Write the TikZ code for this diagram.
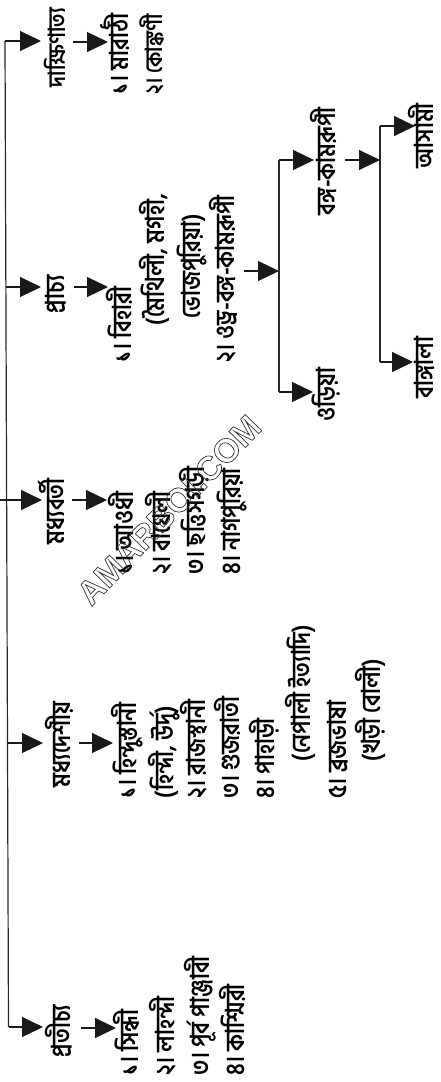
\documentclass[tikz,border=0pt]{standalone}
\usepackage{fontspec}
\usetikzlibrary{arrows.meta}
\newfontfamily\bnfont[Script=Bengali,FakeStretch=0.85]{Hind Siliguri}
\newfontfamily\wmfont{Liberation Sans}
\tikzset{
  x=1pt,y=-1pt,
  lab/.style={rotate=90,anchor=west,inner xsep=0pt,inner ysep=0pt,outer sep=0pt,text height=15pt,text depth=5pt,font=\bnfont\bfseries\fontsize{26}{30}\selectfont,text=black},
  labsm/.style={lab,font=\bnfont\bfseries\fontsize{23.5}{28}\selectfont},
  arr/.style={line width=1.1pt,draw=black!90,-{Triangle[length=21pt,width=20pt,fill=black!90]}},
  trunk/.style={line width=1.2pt,draw=black!85},
}
\begin{document}
\begin{tikzpicture}
\useasboundingbox (0,0) rectangle (441,1082);
% top level
\node[labsm] (dak) at (60,87) {দাক্ষিণাত্য};
\node[lab] (pra) at (59,313) {প্রাচ্য};
\node[lab] (mad) at (59,544) {মধ্যবর্তী};
\node[lab] (mds) at (65,787) {মধ্যদেশীয়};
\node[lab] (pro) at (65,1057) {প্রতীচ্য};
% lists
\node[lab] (d1) at (123,94) {১। মারাঠী};
\node[labsm] (d2) at (157,94) {২। কোঙ্কণী};
\node[lab] (p1) at (126,362) {১। বিহারী};
\node[lab] (p1a) at (159,325) {(মৈথিলী, মগহী,};
\node[lab] (p1b) at (195,318) {ভোজপুরিয়া)};
\node[lab] (p2) at (229,362) {২। ওড্র-বঙ্গ-কামরূপী};
\node[lab] (m1) at (128,574) {১। আওধী};
\node[lab] (m2) at (165,574) {২। বাঘেলী};
\node[lab] (m3) at (199,574) {৩। ছত্তিসগড়ী};
\node[lab] (m4) at (235,574) {৪। নাগপুরিয়া};
\node[lab] (c1) at (131,798) {১। হিন্দুস্তানী};
\node[lab] (c1a) at (168,798) {(হিন্দী, উর্দু)};
\node[lab] (c2) at (200,798) {২। রাজস্থানী};
\node[lab] (c3) at (234,798) {৩। গুজরাতী};
\node[lab] (c4) at (269,798) {৪। পাহাড়ী};
\node[lab] (c4a) at (305,761) {(নেপালী ইত্যাদি)};
\node[lab] (c5) at (341,798) {৫। ব্রজভাষা};
\node[lab] (c5a) at (375,761) {(খড়ী বোলী)};
\node[lab] (w1) at (133,1075) {১। সিন্ধী};
\node[lab] (w2) at (169,1075) {২। লাহন্দী};
\node[lab] (w3) at (204,1075) {৩। পূর্ব পাঞ্জাবী};
\node[lab] (w4) at (239,1075) {৪। কাশ্মিরী};
\node[lab] (odi) at (330,421) {ওড়িয়া};
\node[lab] (bak) at (330,215) {বঙ্গ-কামরূপী};
\node[lab] (asa) at (428,168) {আসামী};
\node[lab] (ban) at (428,398) {বাঙ্গালা};
% trunk
\coordinate (stub) at (0,500);
\coordinate (t1) at (5,41);
\coordinate (t2) at (5.5,287);
\coordinate (t3) at (6,500);
\coordinate (t4) at (7,743);
\coordinate (t5) at (8.5,1027);
\draw[trunk] (t1) -- (t5);
\draw[trunk] (stub) -- (t3);
\draw[arr,shorten >=9pt] (t1) -- (t1 -| dak.north);
\draw[arr,shorten >=8pt] (t2) -- (t2 -| pra.north);
\draw[arr,shorten >=7pt] (t3) -- (t3 -| mad.north);
\draw[arr,shorten >=12pt] (t4) -- (t4 -| mds.north);
\draw[arr,shorten >=12pt] (t5) -- (t5 -| pro.north);
% second arrows
\coordinate (a1) at (73,42);
\coordinate (a2) at (74,287);
\coordinate (a3) at (72,500);
\coordinate (a4) at (79,743);
\coordinate (a5) at (81,1028);
\draw[arr,shorten >=5pt] (a1) -- (a1 -| d1.north);
\draw[arr,shorten >=8pt] (a2) -- (a2 -| p1.north);
\draw[arr,shorten >=11pt] (a3) -- (a3 -| m1.north);
\draw[arr,shorten >=8pt] (a4) -- (a4 -| c1.north);
\draw[arr,shorten >=7pt] (a5) -- (a5 -| w1.north);
% brackets
\coordinate (b0) at (244,271);
\coordinate (b1) at (279,271);
\coordinate (b1t) at (279,160);
\coordinate (b1b) at (279,392);
\draw[trunk] (b1t) -- (b1b);
\draw[arr] (b0) -- (b1);
\draw[arr,shorten >=6pt] (b1t) -- (b1t -| bak.north);
\draw[arr,shorten >=7pt] (b1b) -- (b1b -| odi.north);
\coordinate (e0) at (345,160);
\coordinate (e1) at (380,160);
\coordinate (e1t) at (380,126);
\coordinate (e1b) at (380,362);
\draw[trunk] (e1t) -- (e1b);
\draw[arr] (e0) -- (e1);
\draw[arr,shorten >=3pt] (e1t) -- (e1t -| asa.north);
\draw[arr,shorten >=5pt] (e1b) -- (e1b -| ban.north);
% watermark
\node[rotate=46,text=black!80,font=\wmfont\bfseries\fontsize{33.5}{36}\selectfont,inner sep=0pt] (wm) at (169,510)
  {\special{pdf:code q 1 Tr 0.7 w}AMARBOI.COM\special{pdf:code Q}};
\end{tikzpicture}
\end{document}
